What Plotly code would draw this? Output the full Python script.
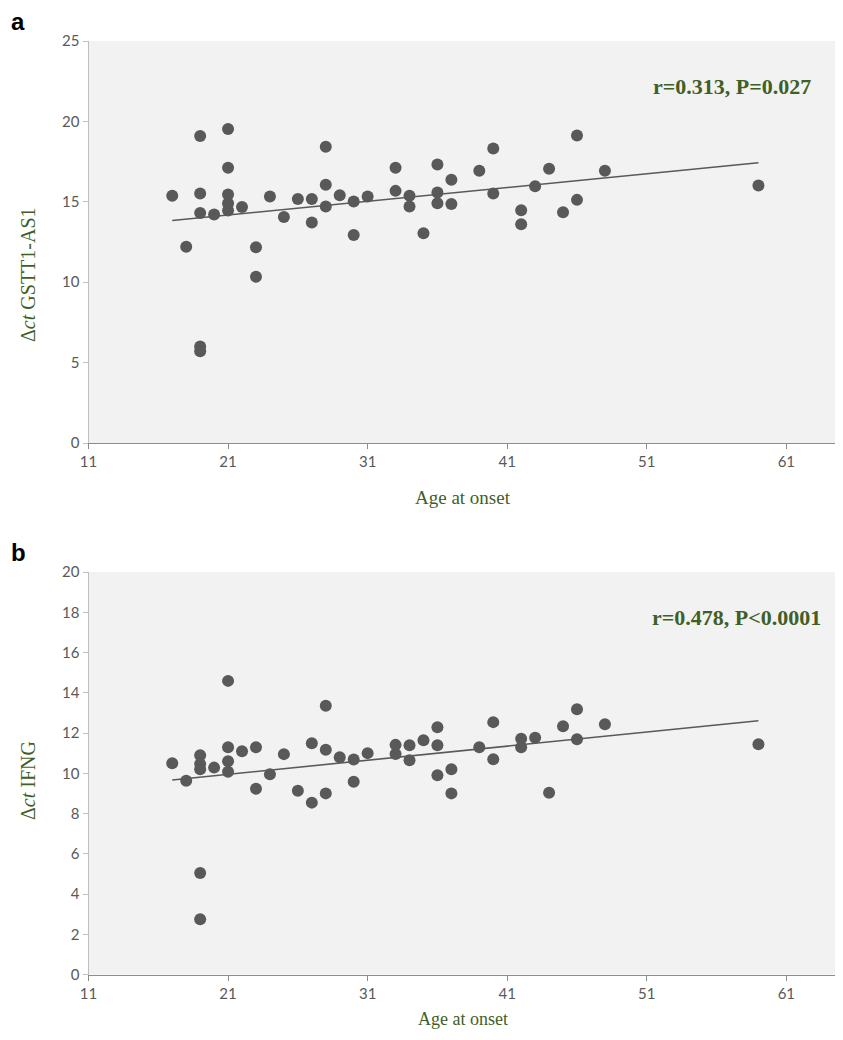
import numpy as np
import plotly.graph_objects as go

# Panel a: age at onset vs delta-ct GSTT1-AS1
age_a = [17, 18, 19, 19, 19, 19, 19, 20, 21, 21, 21, 21, 21, 22, 23, 23, 24, 25, 26, 27, 27,
         28, 28, 28, 29, 30, 30, 31, 33, 33, 34, 34, 35, 36, 36, 36, 37, 37, 39, 40, 40,
         42, 42, 43, 44, 45, 46, 46, 48, 59]
val_a = [15.37, 12.21, 19.09, 15.51, 14.31, 6.0, 5.7, 14.21, 19.53, 17.12, 15.45, 14.91, 14.46,
         14.67, 12.17, 10.34, 15.33, 14.06, 15.18, 15.18, 13.71, 18.42, 16.06, 14.71, 15.41,
         15.02, 12.94, 15.33, 17.12, 15.68, 15.37, 14.71, 13.05, 17.32, 15.58, 14.91, 16.37,
         14.87, 16.93, 18.32, 15.51, 14.48, 13.6, 15.97, 17.05, 14.35, 19.13, 15.12, 16.93, 16.01]

# Panel b: age at onset vs delta-ct IFNG
age_b = [17, 18, 19, 19, 19, 19, 19, 20, 21, 21, 21, 21, 22, 23, 23, 24, 25, 26, 27, 27,
         28, 28, 28, 29, 30, 30, 31, 33, 33, 34, 34, 35, 36, 36, 36, 37, 37, 39, 40, 40,
         42, 42, 43, 44, 45, 46, 46, 48, 59]
val_b = [10.5, 9.63, 10.9, 10.46, 10.2, 5.04, 2.74, 10.28, 14.59, 11.29, 10.6, 10.08, 11.09,
         11.29, 9.23, 9.95, 10.95, 9.13, 11.49, 8.54, 13.35, 11.17, 9.0, 10.8, 10.68, 9.58,
         11.0, 11.41, 10.96, 11.39, 10.65, 11.64, 12.29, 11.39, 9.9, 10.2, 9.0, 11.29, 12.54,
         10.7, 11.71, 11.29, 11.76, 9.03, 12.34, 13.18, 11.69, 12.44, 11.44]

x_ticks = [11, 21, 31, 41, 51, 61]
stats_a = "r=0.313, P=0.027"
stats_b = "r=0.478, P<0.0001"
ytitle_a = "Δ<i>ct</i> GSTT1-AS1"
ytitle_b = "Δ<i>ct</i> IFNG"
xtitle = "Age at onset"

# figure size chosen so the page (with the default 8px body margin) fits the window
W, H = 835, 1024
OFF = 8
DOT = "#595959"
GREEN = "#3f5f26"
TICKC = "#595959"

def px_x(p):
    return (p - OFF) / W

def px_y(p):
    return 1 - (p - OFF) / H

fig = go.Figure()

def add_panel(ages, vals, xa, ya):
    fig.add_trace(go.Scatter(x=ages, y=vals, mode="markers", xaxis=xa, yaxis=ya,
                             marker=dict(size=12, color=DOT), showlegend=False,
                             hoverinfo="x+y"))
    slope, inter = np.polyfit(ages, vals, 1)
    xs = [min(ages), max(ages)]
    fig.add_trace(go.Scatter(x=xs, y=[slope * v + inter for v in xs], mode="lines",
                             xaxis=xa, yaxis=ya, line=dict(color="#595959", width=1.6),
                             showlegend=False, hoverinfo="skip"))

add_panel(age_a, val_a, "x", "y")
add_panel(age_b, val_b, "x2", "y2")

xdom = [px_x(88.5), px_x(838)]
tickfont = dict(family="Lato, Open Sans, sans-serif", size=15, color=TICKC)

xaxis_common = dict(range=[11, 64.7], tickvals=x_ticks, ticks="outside", ticklen=5,
                    tickcolor="#8c8c8c", showline=True, linecolor="#8c8c8c", linewidth=1,
                    showgrid=False, zeroline=False, tickfont=tickfont, domain=xdom,
                    automargin=False)
yaxis_common = dict(ticks="outside", ticklen=5, tickcolor="#bfbfbf", showline=True,
                    linecolor="#bfbfbf", linewidth=1, showgrid=False, zeroline=False,
                    tickfont=tickfont, automargin=False)

fig.update_layout(
    width=W, height=H,
    margin=dict(l=0, r=0, t=0, b=0, autoexpand=False),
    paper_bgcolor="white",
    plot_bgcolor="#f2f2f2",
    xaxis=dict(**xaxis_common, anchor="y"),
    yaxis=dict(**yaxis_common, range=[0, 25], dtick=5, tick0=0, anchor="x",
               domain=[px_y(443), px_y(41)]),
    xaxis2=dict(**xaxis_common, anchor="y2"),
    yaxis2=dict(**yaxis_common, range=[0, 20], dtick=2, tick0=0, anchor="x2",
                domain=[px_y(974.5), px_y(572)]),
)

serif = "Liberation Serif, Times New Roman, serif"
annots = [
    dict(text="<b>a</b>", x=px_x(9), y=px_y(21), xanchor="left", yanchor="middle",
         font=dict(family="Liberation Sans, Arial, sans-serif", size=24, color="black")),
    dict(text="<b>b</b>", x=px_x(9), y=px_y(552), xanchor="left", yanchor="middle",
         font=dict(family="Liberation Sans, Arial, sans-serif", size=24, color="black")),
    dict(text="<b>" + stats_a + "</b>", x=px_x(813), y=px_y(86), xanchor="right", yanchor="middle",
         font=dict(family=serif, size=22, color=GREEN)),
    dict(text="<b>" + stats_b + "</b>", x=px_x(823), y=px_y(617), xanchor="right", yanchor="middle",
         font=dict(family=serif, size=22, color=GREEN)),
    dict(text=xtitle, x=px_x(463), y=px_y(497), xanchor="center", yanchor="middle",
         font=dict(family=serif, size=19, color=GREEN)),
    dict(text=xtitle, x=px_x(463), y=px_y(1031), xanchor="center", yanchor="bottom",
         font=dict(family=serif, size=18, color=GREEN)),
    dict(text=ytitle_a, x=px_x(28), y=px_y(275), xanchor="center", yanchor="middle",
         textangle=-90, font=dict(family=serif, size=20, color=GREEN)),
    dict(text=ytitle_b, x=px_x(28), y=px_y(781), xanchor="center", yanchor="middle",
         textangle=-90, font=dict(family=serif, size=20, color=GREEN)),
]
for a in annots:
    fig.add_annotation(xref="paper", yref="paper", showarrow=False, **a)

fig.write_html("out.html")
